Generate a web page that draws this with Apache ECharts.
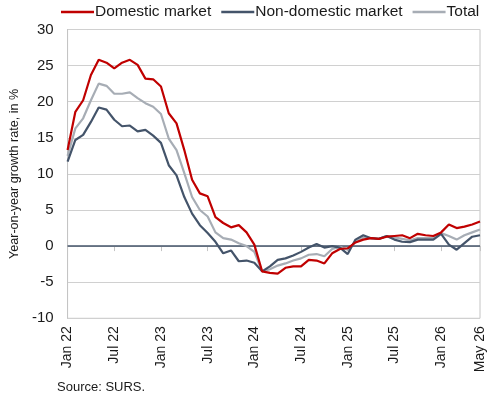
<!DOCTYPE html>
<html>
<head>
<meta charset="utf-8">
<script src="https://cdn.jsdelivr.net/npm/echarts@6/dist/echarts.min.js"></script>
<style>
  html, body { margin: 0; padding: 0; background: #fff; }
  #main { width: 490px; height: 400px; }
</style>
</head>
<body>
<div id="main"></div>
<script>
// months from Jan 22, one entry per data point
var monthNames = ['Jan', 'Feb', 'Mar', 'Apr', 'May', 'Jun', 'Jul', 'Aug', 'Sep', 'Oct', 'Nov', 'Dec'];
var categories = [];
for (var k = 0; k < 54; k++) {
    categories.push(monthNames[k % 12] + ' ' + (22 + Math.floor(k / 12)));
}
var tickIndex = [0, 6, 12, 18, 24, 30, 36, 42, 48, 53];
var tickLabels = ['Jan 22', 'Jul 22', 'Jan 23', 'Jul 23', 'Jan 24', 'Jul 24', 'Jan 25', 'Jul 25', 'Jan 26', 'May 26'];
var yTicks = [-10, -5, 0, 5, 10, 15, 20, 25, 30];

var domestic = [13.3, 18.6, 20.2, 23.7, 25.8, 25.4, 24.6, 25.4, 25.8, 25.1, 23.2, 23.1,
    22.1, 18.4, 17.0, 13.3, 9.2, 7.3, 6.9, 4.0, 3.2, 2.6, 2.9, 1.9,
    0.2, -3.5, -3.7, -3.8, -3.0, -2.8, -2.8, -1.9, -2.0, -2.4, -1.0, -0.4,
    -0.3, 0.5, 0.9, 1.1, 1.0, 1.3, 1.4, 1.5, 1.1, 1.7, 1.5, 1.4,
    1.9, 3.0, 2.5, 2.7, 3.0, 3.4];
var nonDomestic = [11.7, 14.7, 15.4, 17.2, 19.2, 18.9, 17.5, 16.6, 16.7, 15.9, 16.1, 15.3,
    14.3, 11.2, 9.8, 6.8, 4.5, 2.9, 1.8, 0.6, -1.0, -0.6, -2.1, -2.0,
    -2.3, -3.5, -2.8, -1.9, -1.7, -1.3, -0.8, -0.2, 0.3, -0.2, 0.0, -0.2,
    -1.1, 0.9, 1.5, 1.1, 1.0, 1.4, 0.9, 0.6, 0.55, 0.9, 0.9, 0.9,
    1.7, 0.2, -0.5, 0.4, 1.3, 1.5];
var total = [12.5, 16.3, 17.7, 20.2, 22.5, 22.2, 21.1, 21.1, 21.3, 20.5, 19.8, 19.3,
    18.3, 14.9, 13.3, 10.1, 6.8, 5.0, 4.1, 1.9, 1.1, 0.9, 0.4, 0.0,
    -0.8, -3.5, -3.2, -2.7, -2.4, -2.0, -1.7, -1.2, -1.1, -1.4, -0.4, -0.1,
    -0.5, 0.6, 1.2, 1.1, 1.0, 1.4, 1.2, 1.0, 0.8, 1.1, 1.1, 1.1,
    1.8, 1.4, 0.9, 1.5, 1.9, 2.3];

var chart = echarts.init(document.getElementById('main'));

var font = 'Liberation Sans, Arial, sans-serif';

function lineSeries(name, data, color, z) {
    return {
        name: name,
        type: 'line',
        data: data,
        symbol: 'none',
        z: z,
        lineStyle: { color: color, width: 2.2 },
        itemStyle: { color: color }
    };
}

var series = [
    lineSeries('Total', total, '#a7adb5', 3),
    lineSeries('Non-domestic market', nonDomestic, '#44546a', 4),
    lineSeries('Domestic market', domestic, '#c00000', 5)
];
// zero line
series[0].markLine = {
    silent: true,
    symbol: 'none',
    label: { show: false },
    lineStyle: { color: '#44546a', width: 1.5, type: 'solid' },
    data: [{ yAxis: 0 }],
    z: 2
};

var option = {
    animation: false,
    textStyle: { fontFamily: font },
    grid: {
        left: 61,
        right: 10,
        top: 29.5,
        bottom: 81.7,
        show: true,
        borderColor: '#c4c4c4',
        borderWidth: 1
    },
    legend: {
        data: ['Domestic market', 'Non-domestic market', 'Total'],
        left: 61,
        top: 4,
        width: 429,
        padding: 0,
        icon: 'rect',
        itemWidth: 33,
        itemHeight: 2.5,
        itemGap: 10,
        textStyle: { fontSize: 15.5, color: '#1a1a1a', fontFamily: font, padding: [0, 0, 0, -4] }
    },
    xAxis: {
        type: 'category',
        data: categories,
        boundaryGap: false,
        axisLine: { lineStyle: { color: '#c4c4c4', width: 1 } },
        axisTick: {
            show: true,
            length: 5,
            interval: function (index) { return tickIndex.indexOf(index) >= 0; },
            lineStyle: { color: '#c4c4c4' }
        },
        axisLabel: {
            rotate: 90,
            fontSize: 14,
            color: '#1a1a1a',
            margin: 8,
            interval: function (index) { return tickIndex.indexOf(index) >= 0; },
            formatter: function (value, index) {
                var p = tickIndex.indexOf(index);
                return p >= 0 ? tickLabels[p] : '';
            }
        },
        splitLine: { show: false }
    },
    yAxis: {
        type: 'value',
        min: yTicks[0],
        max: yTicks[yTicks.length - 1],
        interval: 5,
        name: 'Year-on-year growth rate, in %',
        nameLocation: 'middle',
        nameGap: 42,
        nameTextStyle: { fontSize: 12.6, color: '#1a1a1a' },
        axisLine: { show: true, lineStyle: { color: '#c4c4c4' } },
        axisTick: { show: false },
        axisLabel: { fontSize: 15, color: '#1a1a1a', margin: 14 },
        splitLine: { lineStyle: { color: '#d0d0d0', width: 1.2 } }
    },
    graphic: [{
        type: 'text',
        left: 57,
        top: 381,
        style: { text: 'Source: SURS.', fontSize: 13, fill: '#1a1a1a', fontFamily: font }
    }],
    series: series
};

chart.setOption(option);
</script>
</body>
</html>
